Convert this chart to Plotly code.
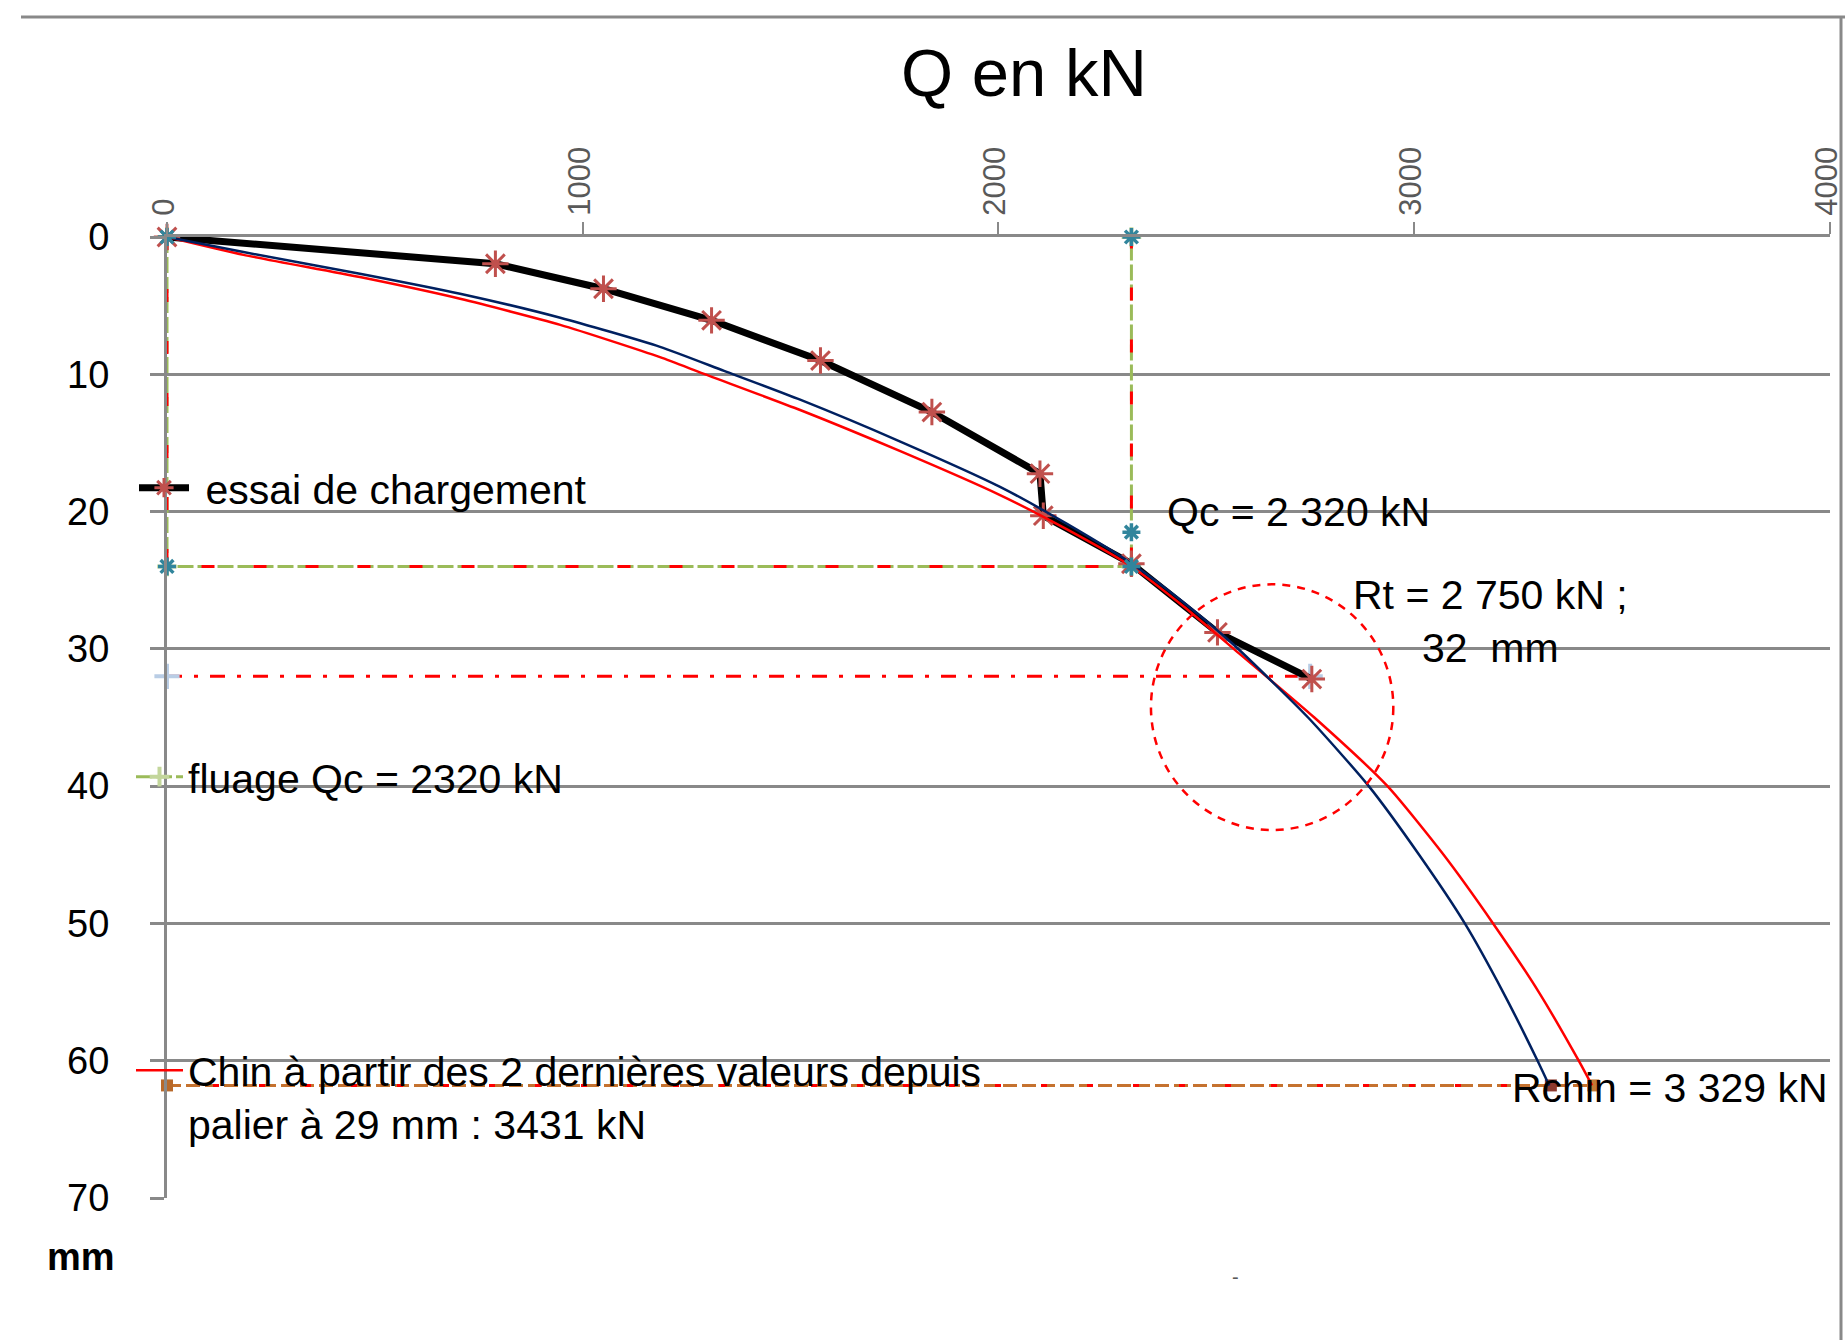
import plotly.graph_objects as go

# ---------------- data ----------------
q_ticks = [0, 1000, 2000, 3000, 4000]
s_ticks = [0, 10, 20, 30, 40, 50, 60, 70]

# load test (essai de chargement)
essai_q = [0, 790, 1050, 1310, 1572, 1840, 2100, 2108, 2320, 2527, 2754]
essai_s = [0, 1.95, 3.77, 6.07, 9.0, 12.75, 17.24, 20.3, 23.8, 28.8, 32.2]

# Chin curve (red) - asymptote 3431 kN
chin_q = [0, 184, 464, 705, 946, 1186, 1290, 1523, 1764, 2004, 2165, 2320,
          2445, 2566, 2760, 2936, 3071, 3190, 3300, 3396, 3428]
chin_s = [0, 1.3, 2.92, 4.5, 6.4, 8.75, 9.95, 12.6, 15.6, 18.8, 21.3, 24.0,
          26.9, 30.0, 35, 40, 45, 50, 55, 60, 61.8]

# Rchin curve (blue) - asymptote 3329 kN
rchin_q = [0, 184, 464, 705, 946, 1186, 1340, 1523, 1764, 2004, 2165, 2321, 2445,
           2566, 2745, 2891, 3012, 3122, 3214, 3297, 3325]
rchin_s = [0, 1.1, 2.67, 4.13, 5.88, 8.0, 9.75, 11.85, 14.9, 18.2, 20.9, 23.8, 26.6,
           29.7, 35, 40, 45, 50, 55, 60, 61.8]

# creep rectangle (fluage Qc = 2320 kN)
fluage_q = [0, 0, 2320, 2320]
fluage_s = [0, 24, 24, 0]
qc_mark_q = [0, 0, 2320, 2320, 2320]
qc_mark_s = [0, 24, 24, 21.5, 0]

# Rt line (2750 kN ; 32 mm)
rt_q = [0, 2750]
rt_s = [32, 32]

# Rchin / Chin limit line at ~62 mm
lim_q = [0, 3329, 3431]
lim_s = [61.8, 61.8, 61.8]
lim_colors = ["#B8692A", "#8E3A2E", "#C27A34"]

# dashed ellipse around Rt
ell_q = [2367, 2950]
ell_s = [25.3, 43.2]

# ---------------- figure ----------------
W, H = 1845, 1340
ML, MR, MT, MB = 167, 15, 237, 142
PW, PH = W - ML - MR, H - MT - MB
GRAY = "#898989"
FONT = "Liberation Sans"
RED_MK = "#C0504D"
TEAL = "#31859C"


def px_x(px):
    return (px - ML) / PW


def px_y(py):
    return 1 - (py - MT) / PH


fig = go.Figure()

# green creep rectangle
fig.add_trace(go.Scatter(
    x=fluage_q, y=fluage_s, mode="lines+markers", name="fluage Qc = 2320 kN",
    line=dict(color="#9BBB59", width=3, dash="16px,4px"),
    marker=dict(symbol="cross-thin-open", size=14, color="#C3D69B",
                line=dict(color="#C3D69B", width=4)),
    legend="legend2", cliponaxis=False))
# red dashed overlay
fig.add_trace(go.Scatter(
    x=fluage_q, y=fluage_s, mode="lines", showlegend=False,
    line=dict(color="#FF0000", width=3, dash="13px,39px"), cliponaxis=False))

# Rt dash-dot line
fig.add_trace(go.Scatter(
    x=rt_q, y=rt_s, mode="lines+markers", showlegend=False,
    line=dict(color="#FF0000", width=3, dash="15px,12px,4px,12px"),
    marker=dict(symbol="cross-thin-open", size=18, color="#B9CDE5",
                line=dict(color="#B9CDE5", width=4)),
    cliponaxis=False))

# limit line at ~62 mm
fig.add_trace(go.Scatter(
    x=lim_q, y=lim_s, mode="lines", showlegend=False,
    line=dict(color="#C5722F", width=3, dash="14px,5px"), cliponaxis=False))
fig.add_trace(go.Scatter(
    x=lim_q, y=lim_s, mode="lines+markers", showlegend=False,
    line=dict(color="#FF0000", width=3, dash="6px,40px"),
    marker=dict(symbol="square", size=12, color=lim_colors), cliponaxis=False))

# load test
fig.add_trace(go.Scatter(
    x=essai_q, y=essai_s, mode="lines+markers", name="\u00a0essai de chargement",
    line=dict(color="black", width=7),
    marker=dict(symbol="asterisk-open", size=22, color=RED_MK,
                line=dict(color=RED_MK, width=3)),
    legend="legend", cliponaxis=False))

# Chin red
fig.add_trace(go.Scatter(
    x=chin_q, y=chin_s, mode="lines",
    name="Chin à partir des 2 dernières valeurs depuis<br>palier à 29 mm : 3431 kN",
    line=dict(color="#FF0000", width=2.5, shape="spline", smoothing=0.6),
    legend="legend3", cliponaxis=False))

# Rchin blue
fig.add_trace(go.Scatter(
    x=rchin_q, y=rchin_s, mode="lines", showlegend=False,
    line=dict(color="#002060", width=2.5, shape="spline", smoothing=0.6),
    cliponaxis=False))

# teal markers on the creep rectangle
fig.add_trace(go.Scatter(
    x=qc_mark_q, y=qc_mark_s, mode="markers", showlegend=False,
    marker=dict(symbol="asterisk-open", size=15, color=TEAL,
                line=dict(color=TEAL, width=3.5)),
    cliponaxis=False))

legend_common = dict(bgcolor="rgba(0,0,0,0)", borderwidth=0,
                     font=dict(family=FONT, size=41, color="black"),
                     xanchor="left", yanchor="middle", itemclick=False)

fig.update_layout(
    width=W, height=H,
    margin=dict(l=ML, r=MR, t=MT, b=MB, autoexpand=False),
    paper_bgcolor="white", plot_bgcolor="white",
    font=dict(family=FONT, color="black"),
    title=dict(text="Q en kN", font=dict(family=FONT, size=67, color="black"),
               x=px_x(1024), xref="paper", xanchor="center",
               y=1 - 73 / H, yref="container", yanchor="middle"),
    xaxis=dict(side="top", range=[0, 4000.5], tickvals=q_ticks,
               ticktext=[str(v) for v in q_ticks], tickangle=-90,
               ticks="outside", ticklen=12, tickwidth=2, tickcolor=GRAY,
               ticklabeloverflow="allow", ticklabelshift=-3,
               showline=True, linecolor=GRAY, linewidth=3,
               showgrid=False, zeroline=False, automargin=False,
               tickfont=dict(family=FONT, size=31, color="#595959")),
    yaxis=dict(range=[70, 0], tickvals=s_ticks, ticktext=[str(v) for v in s_ticks],
               ticks="outside", ticklen=14, tickwidth=3, tickcolor=GRAY,
               showline=True, linecolor=GRAY, linewidth=3,
               showgrid=True, gridcolor=GRAY, gridwidth=3,
               zeroline=False, automargin=False, ticklabelstandoff=33,
               tickfont=dict(family=FONT, size=38, color="black")),
    legend=dict(x=px_x(134), y=px_y(488), itemwidth=50, **legend_common),
    legend2=dict(x=px_x(131), y=px_y(777), itemwidth=47, **legend_common),
    legend3=dict(x=px_x(131), y=px_y(1097), itemwidth=47, valign="top", **legend_common),
)

# ellipse around Rt
fig.add_shape(type="circle", xref="x", yref="y",
              x0=ell_q[0], x1=ell_q[1], y0=ell_s[0], y1=ell_s[1],
              line=dict(color="#FF0000", width=2.5, dash="8px,7px"))

# chart-area border (top and right)
fig.add_shape(type="line", xref="paper", yref="paper",
              x0=px_x(21), x1=px_x(1845), y0=px_y(17), y1=px_y(17),
              line=dict(color=GRAY, width=3))
fig.add_shape(type="line", xref="paper", yref="paper",
              x0=px_x(1841), x1=px_x(1841), y0=px_y(17), y1=px_y(1340),
              line=dict(color=GRAY, width=3))

ann_font = dict(family=FONT, size=41, color="black")
fig.add_annotation(x=2401, y=20.06, xref="x", yref="y", text="Qc = 2 320 kN",
                   showarrow=False, xanchor="left", yanchor="middle", font=ann_font)
fig.add_annotation(x=3183, y=28.0, xref="x", yref="y",
                   text="Rt = 2 750 kN ;<br>32 \u00a0mm", align="center",
                   showarrow=False, xanchor="center", yanchor="middle", font=ann_font)
fig.add_annotation(x=3231, y=62.0, xref="x", yref="y", text="Rchin = 3 329 kN",
                   showarrow=False, xanchor="left", yanchor="middle", font=ann_font)
fig.add_annotation(x=px_x(81), y=px_y(1257), xref="paper", yref="paper", text="<b>mm</b>",
                   showarrow=False, xanchor="center", yanchor="middle",
                   font=dict(family=FONT, size=38, color="black"))
fig.add_annotation(x=px_x(1235), y=px_y(1277), xref="paper", yref="paper", text="-",
                   showarrow=False, xanchor="center", yanchor="middle",
                   font=dict(family=FONT, size=20, color="#595959"))

fig.write_html("out.html")
